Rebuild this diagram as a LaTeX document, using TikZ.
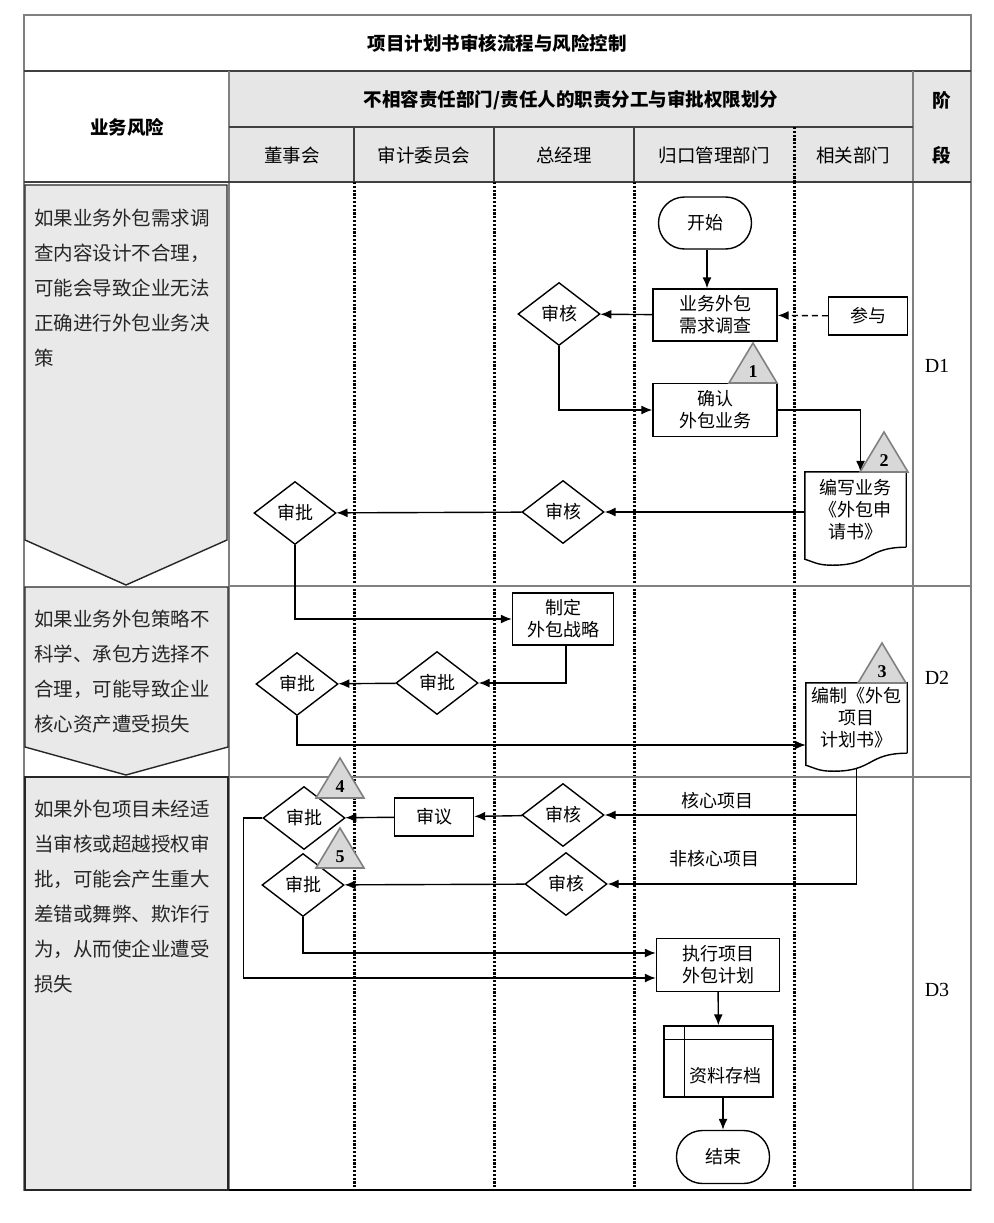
\documentclass[tikz,border=0pt]{standalone}
\usepackage{fontspec}
\setmainfont{Liberation Serif}
\newfontfamily\cjk{Noto Sans CJK SC}
\usepackage{tikz}
\usetikzlibrary{arrows.meta,shapes.geometric,calc}
\usepackage{xcolor}

\definecolor{framegray}{RGB}{128,128,128}
\definecolor{headgray}{RGB}{230,230,230}
\definecolor{riskgray}{RGB}{233,233,233}
\definecolor{markgray}{RGB}{216,216,216}

% outline of a document node, wavy bottom
\newcommand{\docframe}[1]{%
  \draw[line width=1.4pt] (#1.south east) -- (#1.north east) -- (#1.north west)
    -- ([yshift=-12pt]#1.south west)
    .. controls +(12,4) and +(-14,0) .. ([xshift=28pt,yshift=-18pt]#1.south west)
    .. controls +(40,0) and +(-40,0) .. (#1.south east);}

% numbered control point marker
\newcommand{\ctrlmark}[4]{%
  \draw[marker tri] (#2-24,#3) -- (#2,#3-40) -- (#2+24,#3) -- cycle;
  \node[marker num] (#1) at (#2,#3-11) {#4};}

\begin{document}
\begin{tikzpicture}[x=1pt,y=-1pt,>={Latex[length=11pt,width=9pt]},
  every node/.style={font=\cjk\fontsize{18}{22}\selectfont,inner sep=1pt},
  flow/.style={->,line width=1.4pt},
  process node/.style={rectangle,draw,line width=1.4pt,align=center,fill=white},
  decision node/.style={diamond,draw,line width=1.4pt,aspect=1.3,inner sep=0pt,
                        minimum width=82pt,minimum height=63pt,fill=white},
  term node/.style={rectangle,rounded corners=26pt,draw,line width=1.4pt,
                    minimum width=93pt,minimum height=52pt},
  doc node/.style={rectangle,align=center,minimum width=101pt},
  title text/.style={font=\cjk\bfseries\fontsize{18.5}{22}\selectfont},
  lane text/.style={font=\cjk\fontsize{18.5}{22}\selectfont},
  risk text/.style={font=\cjk\fontsize{19.5}{35}\selectfont,align=left,
                    anchor=north west,inner sep=0pt,text=black!85},
  risk box/.style={fill=riskgray,draw=black!85,line width=1.4pt},
  stage text/.style={font=\fontsize{20}{24}\selectfont\rmfamily},
  marker tri/.style={fill=markgray,draw=framegray,line width=1.6pt,line join=miter},
  marker num/.style={font=\fontsize{18}{20}\selectfont\rmfamily\bfseries},
  lane line/.style={line width=3pt,dash pattern=on 2.2pt off 1.6pt},
  grid line/.style={draw=framegray,line width=2pt}]

  \useasboundingbox (0,0) rectangle (993,1223);
  \fill[white] (0,0) rectangle (993,1223);

  % table head
  \fill[headgray] (229,72) rectangle (971,182);
  \draw[grid line] (24,15) rectangle (971,1190);
  \draw[black!75,line width=2pt] (24,71) -- (971,71);
  \draw[grid line] (229,71) -- (229,1190);
  \draw[grid line] (913,71) -- (913,1190);
  \draw[black!75,line width=2pt] (229,127) -- (913,127);
  \draw[black!75,line width=2pt] (24,182) -- (971,182);
  \foreach \x in {354,494,634}
    \draw[black!75,line width=2pt] (\x,127) -- (\x,182);
  \draw[lane line] (794,127) -- (794,182);

  % swim lanes and stages
  \foreach \x in {354,494,634,794}
    \draw[lane line] (\x,182) -- (\x,1190);
  \draw[grid line] (229,586) -- (971,586);
  \draw[grid line] (229,777) -- (971,777);
  \draw[black,line width=2pt] (24,1190) -- (971,1190);

  \node[title text] (title) at (497,43) {项目计划书审核流程与风险控制};
  \node[title text] (duty) at (571,100) {不相容责任部门/责任人的职责分工与审批权限划分};
  \node[title text] (risk) at (127,127) {业务风险};
  \node[title text] (stage1) at (942,100) {阶};
  \node[title text] (stage2) at (942,155) {段};
  \node[lane text] (board) at (292,155) {董事会};
  \node[lane text] (audit) at (424,155) {审计委员会};
  \node[lane text] (gm) at (564,155) {总经理};
  \node[lane text] (dept) at (714,155) {归口管理部门};
  \node[lane text] (rel) at (853,155) {相关部门};

  \node[stage text] (d1) at (937,366) {D1};
  \node[stage text] (d2) at (937,678) {D2};
  \node[stage text] (d3) at (937,990) {D3};

  % business risks
  \filldraw[risk box] (25,185) -- (227,185) -- (227,540) -- (126,585) -- (25,540) -- cycle;
  \filldraw[risk box] (25,587) -- (228,587) -- (228,747) -- (126,775) -- (25,747) -- cycle;
  \filldraw[risk box] (25,777) -- (228,777) -- (228,1190) -- (25,1190) -- cycle;

  \node[risk text] (risk1) at (34,209) {如果业务外包需求调\\查内容设计不合理，\\可能会导致企业无法\\正确进行外包业务决\\策};
  \node[risk text] (risk2) at (34,610) {如果业务外包策略不\\科学、承包方选择不\\合理，可能导致企业\\核心资产遭受损失};
  \node[risk text] (risk3) at (34,800) {如果外包项目未经适\\当审核或超越授权审\\批，可能会产生重大\\差错或舞弊、欺诈行\\为，从而使企业遭受\\损失};

  % stage D1
  \node[term node] (start) at (705,223) {开始};
  \node[process node,minimum width=124pt,minimum height=52pt] (survey) at (715,315) {业务外包\\需求调查};
  \node[process node,minimum width=79pt,minimum height=38pt] (join) at (868,316) {参与};
  \node[decision node] (rev1) at (559,314) {审核};
  \node[process node,minimum width=124pt,minimum height=53pt] (confirm) at (715,410) {确认\\外包业务};
  \node[doc node,minimum height=75pt] (apply) at (855.5,509.5) {编写业务\\《外包申\\请书》};
  \docframe{apply}
  \node[decision node] (rev2) at (563,512) {审核};
  \node[decision node] (appr1) at (295,513) {审批};

  \draw[flow] ([xshift=2pt]start.south) -- ([xshift=2pt]start.south |- survey.north);
  \draw[flow] (survey) -- (rev1);
  \draw[flow,dash pattern=on 6pt off 4pt] (join) -- (survey);
  \draw[flow] (rev1.south) |- (confirm.west);
  \draw[flow] (confirm.east) -| ([xshift=5pt]apply.north);
  \draw[flow] (rev2.east -| apply.west) -- (rev2.east);
  \draw[flow] (rev2) -- (appr1);

  % stage D2
  \node[process node,minimum width=101pt,minimum height=52pt] (strategy) at (563,619) {制定\\外包战略};
  \node[decision node] (appr2) at (437,683) {审批};
  \node[decision node] (appr3) at (297,684) {审批};
  \node[doc node,minimum height=70pt] (plan) at (856.5,718) {编制《外包\\项目\\计划书》};
  \docframe{plan}

  \draw[flow] (appr1.south) |- (strategy.west);
  \draw[flow] ([xshift=3pt]strategy.south) |- (appr2.east);
  \draw[flow] (appr2) -- (appr3);
  \draw[flow] (appr3.south) |- ([yshift=-27pt]plan.west);

  % stage D3
  \node[decision node] (rev3) at (563,815) {审核};
  \node[decision node] (rev4) at (566,884) {审核};
  \node[process node,minimum width=79pt,minimum height=38pt] (discuss) at (434,817) {审议};
  \node[decision node] (appr4) at (304,818) {审批};
  \node[decision node] (appr5) at (303,885) {审批};
  \node[process node,minimum width=123pt,minimum height=53pt] (execute) at (718,965) {执行项目\\外包计划};
  \node[process node,minimum width=109pt,minimum height=71pt] (archive) at (718.5,1061.5) {};
  \draw[line width=1.4pt] ([xshift=21pt]archive.north west) -- ([xshift=21pt]archive.south west);
  \draw[line width=1.4pt] ([yshift=-14pt]archive.north west) -- ([yshift=-14pt]archive.north east);
  \node (archivetext) at (725,1076) {资料存档};
  \node[term node,minimum height=53pt] (end) at (723,1157) {结束};

  \coordinate (planbot) at ([yshift=-16pt]plan.south);
  \draw[flow] (planbot) |- (rev3.east);
  \draw[flow] (planbot) |- (rev4.east);
  \node (core) at (717,801) {核心项目};
  \node (noncore) at (714,859) {非核心项目};

  \draw[flow] (rev3) -- (discuss);
  \draw[flow] (discuss) -- (appr4);
  \draw[flow] (rev4) -- (appr5);
  \draw[flow] (appr5.south) |- ([yshift=12pt]execute.west);
  \draw[flow] (appr4.west) -- ++(-19,0) |- ([yshift=-13pt]execute.west);
  \draw[flow] (execute) -- (archive);
  \draw[flow] (archive.south -| end.north) -- (end.north);

  % control points
  \ctrlmark{m1}{753}{383}{1}
  \ctrlmark{m2}{884}{472}{2}
  \ctrlmark{m3}{882}{683}{3}
  \ctrlmark{m4}{340}{798}{4}
  \ctrlmark{m5}{340}{868}{5}

\end{tikzpicture}
\end{document}
